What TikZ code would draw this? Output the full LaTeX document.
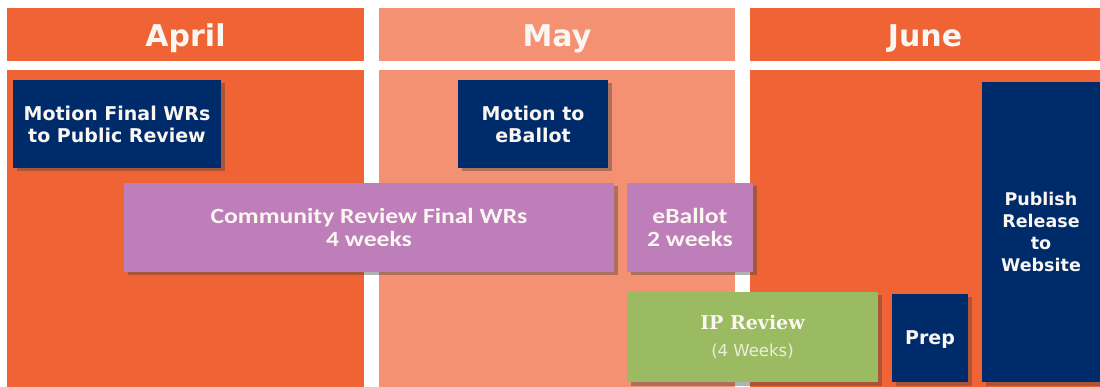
\documentclass[tikz,border=0pt]{standalone}
\usepackage{fontspec}
\setmainfont{DejaVu Sans}
\newfontfamily\calfont{Carlito}[FakeStretch=1.18]
\newfontfamily\serfont{DejaVu Serif}
\usetikzlibrary{shadows}
\definecolor{aprorange}{RGB}{240,99,52}
\definecolor{mayorange}{RGB}{245,145,115}
\definecolor{navy}{RGB}{0,43,107}
\definecolor{lilac}{RGB}{190,126,185}
\definecolor{olive}{RGB}{155,187,98}
\definecolor{paper}{RGB}{250,246,242}
\tikzset{
  month/.style={fill=#1,inner sep=0pt,minimum height=53,text=paper,
    text height=25pt,text depth=0pt,
    font=\bfseries\fontsize{30}{34}\selectfont},
  column/.style={fill=#1,inner sep=0pt,minimum height=317},
  task/.style={fill=#1,inner sep=0pt,align=center,text=paper,
    drop shadow={shadow xshift=3.5pt,shadow yshift=-3.5pt,opacity=.4,fill=black!75}},
  navyfont/.style={font=\bfseries\fontsize{19}{22}\selectfont},
  lilacfont/.style={font=\calfont\bfseries\fontsize{21.7}{23}\selectfont}
}
\begin{document}
\begin{tikzpicture}[x=1pt,y=-1pt]
  \useasboundingbox[fill=white] (0,0) rectangle (1100,387);
  % month headers
  \node[month=aprorange,minimum width=357] (april) at (185.5,34.5) {April};
  \node[month=mayorange,minimum width=356] (may) at (557,34.5) {May};
  \node[month=aprorange,minimum width=350] (june) at (925,34.5) {June};
  % month columns
  \node[column=aprorange,minimum width=357] (aprcol) at (185.5,228.5) {};
  \node[column=mayorange,minimum width=356] (maycol) at (557,228.5) {};
  \node[column=aprorange,minimum width=350] (junecol) at (925,228.5) {};
  % tasks
  \node[task=navy,navyfont,minimum width=208,minimum height=88] (wrmotion) at (117,124)
    {Motion Final WRs\\to Public Review};
  \node[task=navy,navyfont,minimum width=150,minimum height=88] (ballotmotion) at (533,124)
    {Motion to\\eBallot};
  \node[task=lilac,lilacfont,minimum width=490,minimum height=89] (community) at (369,227.5)
    {Community Review Final WRs\\4 weeks};
  \node[task=lilac,lilacfont,minimum width=126,minimum height=89] (eballot) at (690,227.5)
    {eBallot\\2 weeks};
  \node[task=olive,minimum width=251,minimum height=90] (ipreview) at (752.5,337)
    {{\serfont\bfseries\fontsize{19}{22}\selectfont IP Review}\\[13pt]
     {\fontsize{16.5}{20}\selectfont\color{paper!85!olive}(4 Weeks)}};
  \node[task=navy,navyfont,text depth=0pt,minimum width=76,minimum height=88] (prep) at (930,338) {Prep};
  \node[task=navy,font=\bfseries\fontsize{17.5}{22.3}\selectfont,minimum width=118,minimum height=300]
    (publish) at (1041,232) {Publish\\Release\\to\\Website};
\end{tikzpicture}
\end{document}
